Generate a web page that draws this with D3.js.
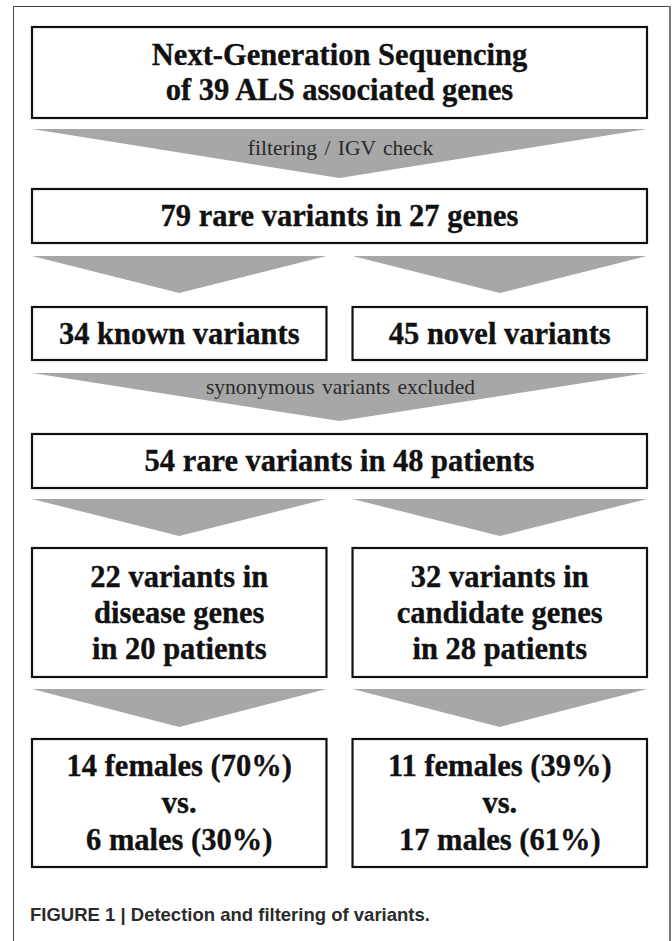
<!DOCTYPE html>
<html>
<head>
<meta charset="utf-8">
<script src="https://cdn.jsdelivr.net/npm/d3@7"></script>
<style>
  html, body { margin: 0; padding: 0; background: #fff; }
  svg { display: block; }
</style>
</head>
<body>
<svg id="chart" width="672" height="941"></svg>
<script>
// ---- content (data) ----
const stage1 = [["Next-Generation Sequencing", "of 39 ALS associated genes"]];
const stage2 = [["79 rare variants in 27 genes"]];
const stage3 = [["34 known variants"], ["45 novel variants"]];
const stage4 = [["54 rare variants in 48 patients"]];
const stage5 = [["22 variants in", "disease genes", "in 20 patients"],
                ["32 variants in", "candidate genes", "in 28 patients"]];
const stage6 = [["14 females (70%)", "vs.", "6 males (30%)"],
                ["11 females (39%)", "vs.", "17 males (61%)"]];
const arrowLabels = ["filtering / IGV check", "", "synonymous variants excluded", "", ""];
const caption = ["FIGURE 1 | Detection and filtering of variants."];

// ---- layout ----
const svg = d3.select("#chart");
const L = 32, R = 647, GAP = 25;
const full = d3.scaleLinear().domain([0, 1]).range([L, R]);
const half = d3.scaleBand().domain([0, 1]).range([L, R]).paddingInner(GAP / (R - L) * 2);

// outer frame
svg.append("path").attr("d", `M13.5,960 L13.5,6.5 L669.5,6.5`).attr("fill", "none")
  .attr("stroke", "#444").attr("stroke-width", 1);
svg.append("line").attr("x1", 670).attr("x2", 670).attr("y1", 6).attr("y2", 960)
  .attr("stroke", "#777").attr("stroke-width", 2);

const stages = [
  {rows: stage1, y0: 27, y1: 118, lineGap: 35},
  {rows: stage2, y0: 189, y1: 243, lineGap: 0},
  {rows: stage3, y0: 307, y1: 360, lineGap: 0},
  {rows: stage4, y0: 434, y1: 488, lineGap: 0},
  {rows: stage5, y0: 548, y1: 677, lineGap: 36},
  {rows: stage6, y0: 739, y1: 867, lineGap: 37}
];
const arrows = [
  {y0: 129, y1: 178, split: false, labelY: 155},
  {y0: 256, y1: 293, split: true},
  {y0: 373, y1: 421, split: false, labelY: 394},
  {y0: 499, y1: 536, split: true},
  {y0: 689, y1: 727, split: true}
];

function boxX(n, i) {
  if (n === 1) return [full(0), full(1)];
  return [half(i), half(i) + half.bandwidth()];
}

// arrows
arrows.forEach((a, k) => {
  const parts = a.split ? [0, 1].map(i => boxX(2, i)) : [boxX(1, 0)];
  parts.forEach(([x0, x1]) => {
    svg.append("polygon")
      .attr("points", [[x0, a.y0], [x1, a.y0], [(x0 + x1) / 2, a.y1]].map(p => p.join(",")).join(" "))
      .attr("fill", "#a7a7a7");
  });
  if (arrowLabels[k]) {
    svg.append("text").attr("x", (L + R) / 2 + 1).attr("y", a.labelY)
      .attr("text-anchor", "middle")
      .style("font-family", "'Liberation Serif', 'Times New Roman', serif")
      .attr("font-size", 21.5).attr("fill", "#2a2a2a")
      .attr("word-spacing", 2)
      .text(arrowLabels[k]);
  }
});

// boxes
stages.forEach(s => {
  const n = s.rows.length;
  s.rows.forEach((lines, i) => {
    const [x0, x1] = boxX(n, i);
    svg.append("rect").attr("x", x0).attr("y", s.y0)
      .attr("width", x1 - x0).attr("height", s.y1 - s.y0)
      .attr("fill", "#fff").attr("stroke", "#111").attr("stroke-width", 2.2);
    const cy = (s.y0 + s.y1) / 2;
    const m = lines.length;
    lines.forEach((t, j) => {
      svg.append("text")
        .attr("x", (x0 + x1) / 2)
        .attr("y", cy + (j - (m - 1) / 2) * s.lineGap + 10)
        .attr("text-anchor", "middle")
        .style("font-family", "'Liberation Serif', 'Times New Roman', serif")
        .attr("font-weight", "bold")
        .attr("font-size", 30.5)
        .attr("fill", "#111")
        .attr("stroke", "#111").attr("stroke-width", 0.35)
        .text(t);
    });
  });
});

// caption
svg.append("text").attr("x", 30).attr("y", 921)
  .style("font-family", "'Liberation Sans', Arial, Helvetica, sans-serif")
  .attr("font-weight", "bold").attr("font-size", 18.5).attr("fill", "#2b2b2b")
  .text(caption[0]);
</script>
</body>
</html>
